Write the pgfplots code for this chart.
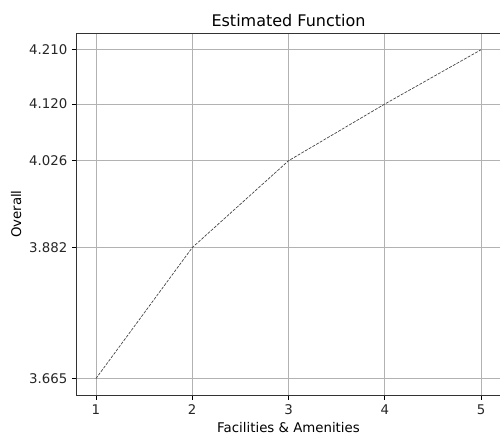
\documentclass[border=0pt]{standalone}
\usepackage{pgfplots}
\pgfplotsset{compat=1.18}
\usepackage{fontspec}
\setmainfont{DejaVu Sans}
\begin{document}
\begin{tikzpicture}[x=1pt,y=1pt]
\begin{axis}[
  at={(0,0)}, anchor=south west,
  scale only axis,
  width=317.8pt, height=271.3pt,
  xmin=0.8, xmax=5.2,
  ymin=3.63775, ymax=4.23725,
  xtick={1,2,3,4,5},
  ytick={3.665,3.882,4.026,4.120,4.210},
  yticklabels={3.665,3.882,4.026,4.120,4.210},
  /pgf/number format/assume math mode=true,
  tick label style={font=\fontsize{10}{12}\selectfont, black!85},
  tick align=outside,
  major tick length=3.5pt,
  tick style={black, line width=0.6pt},
  xtick pos=bottom, ytick pos=left,
  grid=major,
  grid style={color=black!30, line width=0.6pt},
  axis line style={black!80, line width=0.6pt},
  title={Estimated Function},
  title style={font=\fontsize{12}{14}\selectfont, yshift=-4.5pt},
  xlabel={Facilities \& Amenities},
  ylabel={Overall},
  label style={font=\fontsize{10}{12}\selectfont},
  xlabel style={yshift=1pt},
  ylabel style={yshift=-1pt},
]
\addplot[color=black!75, line width=0.5pt, dash pattern=on 2.2pt off 1pt] coordinates {
  (1,3.665) (2,3.882) (3,4.026) (4,4.120) (5,4.210)
};
\end{axis}
\pgfresetboundingbox
\path[use as bounding box] (-57.5pt,-33.75pt) rectangle (317.5pt,296.25pt);
\end{tikzpicture}
\end{document}
